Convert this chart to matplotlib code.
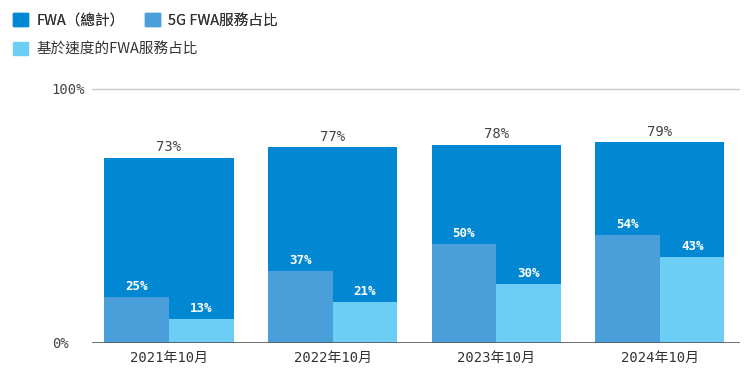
import matplotlib
matplotlib.use("Agg")
import matplotlib.pyplot as plt
from matplotlib.patches import Patch
import numpy as np

categories = ["2021年10月", "2022年10月", "2023年10月", "2024年10月"]
fwa_total = [73, 77, 78, 79]
fwa_5g = [25, 37, 50, 54]
fwa_speed = [13, 21, 30, 43]
series_labels = ["FWA（總計）", "5G FWA服務占比", "基於速度的FWA服務占比"]
y_ticks = [0, 100]
y_tick_labels = ["0%", "100%"]

c_total = "#0288d2"
c_5g = "#4a9fdb"
c_speed = "#6dcef5"

cjk = ["Noto Sans CJK TC", "DejaVu Sans"]
mono = ["DejaVu Sans Mono", "Noto Sans CJK TC"]

fig = plt.figure(figsize=(7.49, 3.83), dpi=100)
ax = fig.add_axes([92/749, 1-343/383, (740-92)/749, 266.7/383])

x = np.arange(len(categories))
w = 0.79
# inner bars are shares of the FWA total, drawn inside the total bar
h_5g = [a * t / 100 for a, t in zip(fwa_5g, fwa_total)]
h_speed = [a * t / 100 for a, t in zip(fwa_speed, fwa_total)]

ax.bar(x, fwa_total, width=w, color=c_total, zorder=2)
ax.bar(x - w/2, h_5g, width=w/2, align="edge", color=c_5g, zorder=3)
ax.bar(x, h_speed, width=w/2, align="edge", color=c_speed, zorder=3)

for i in range(len(categories)):
    ax.text(x[i], fwa_total[i] + 1.5, f"{fwa_total[i]}%", ha="center", va="bottom",
            fontsize=10, color="#444444", family=mono)
    ax.text(x[i] - w/4, h_5g[i] + 1.5, f"{fwa_5g[i]}%", ha="center", va="bottom",
            fontsize=9, color="white", fontweight="bold", family=mono, zorder=4)
    ax.text(x[i] + w/4, h_speed[i] + 1.5, f"{fwa_speed[i]}%", ha="center", va="bottom",
            fontsize=9, color="white", fontweight="bold", family=mono, zorder=4)

ax.set_xlim(-0.47, len(categories) - 1 + 0.49)
ax.set_ylim(0, 105)
ax.axhline(100, color="#c8c8c8", lw=1, zorder=1)
ax.axhline(0, color="#555555", lw=1.2, zorder=5)
for s in ax.spines.values():
    s.set_visible(False)

ax.set_xticks(x)
ax.set_xticklabels(categories, family=mono, fontsize=10, color="#333333")
ax.tick_params(axis="x", length=0, pad=6)
ax.set_yticks(y_ticks)
ax.set_yticklabels(y_tick_labels, family=mono, fontsize=10, color="#444444")
ax.tick_params(axis="y", length=0, pad=29)
for lab in ax.get_yticklabels():
    lab.set_horizontalalignment("left")

handles = [Patch(color=c) for c in (c_total, c_5g, c_speed)]
leg1 = fig.legend(handles[:2], series_labels[:2], loc="upper left",
                  bbox_to_anchor=(0.0, 1.0), ncol=2, frameon=False,
                  prop={"family": cjk, "size": 10.5}, handlelength=1.0, handleheight=1.0,
                  handletextpad=0.6, columnspacing=1.4, labelcolor="#333333")
leg2 = fig.legend(handles[2:], series_labels[2:], loc="upper left",
                  bbox_to_anchor=(0.0, 1 - 29/383), frameon=False,
                  prop={"family": cjk, "size": 10.5}, handlelength=1.0, handleheight=1.0,
                  handletextpad=0.6, labelcolor="#333333")
fig.add_artist(leg1)

fig.savefig("out.png", dpi=100)
